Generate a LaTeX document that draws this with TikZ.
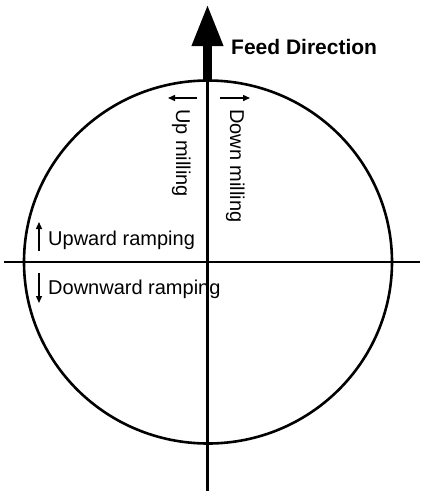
\documentclass[tikz,border=0pt]{standalone}
\usepackage{fontspec}
\setmainfont{Liberation Sans}
\usetikzlibrary{arrows.meta}
\begin{document}
\begin{tikzpicture}[x=1pt,y=-1pt,
  axis/.style={line width=2.1pt},
  rim/.style={line width=2.6pt},
  lbl/.style={inner sep=0pt,font=\fontsize{20}{22}\selectfont},
  small/.style={line width=1.4pt,-{Triangle[length=7pt,width=6pt]}},
  feed/.style={line width=9.5pt,-{Triangle[length=42pt,width=29pt]},shorten >=-1pt}]
\useasboundingbox (0,0) rectangle (422,493);
% circle
\coordinate (O) at (208,262);
\draw[rim] (O) ellipse [x radius=184, y radius=181.5];
% axes
\coordinate (vtop) at (207.5,48);
\coordinate (vbot) at (207.5,491);
\coordinate (hl) at (4,262);
\coordinate (hr) at (420,262);
\draw[axis] (vtop) -- (vbot);
\draw[axis] (hl) -- (hr);
% feed arrow
\coordinate (fs) at (207.5,82);
\coordinate (ft) at (207.5,5);
\draw[feed] (fs) -- (ft);
\node[lbl,anchor=base west,font=\bfseries\fontsize{21}{23}\selectfont] (feedlbl) at (231,54) {Feed Direction};
% milling arrows
\coordinate (um1) at (197,98);
\coordinate (um2) at (168,98);
\coordinate (dm1) at (220,98);
\coordinate (dm2) at (250,98);
\draw[small] (um1) -- (um2);
\draw[small] (dm1) -- (dm2);
\node[lbl,rotate=-90,anchor=base west] (up) at (176,109) {Up milling};
\node[lbl,rotate=-90,anchor=base west] (down) at (230,109) {Down milling};
% ramping arrows
\coordinate (ur1) at (39,251);
\coordinate (ur2) at (39,222);
\coordinate (dr1) at (39,273);
\coordinate (dr2) at (39,303);
\draw[small] (ur1) -- (ur2);
\draw[small] (dr1) -- (dr2);
\node[lbl,anchor=base west] (upr) at (48,245) {Upward ramping};
\node[lbl,anchor=base west] (dnr) at (48,294) {Downward ramping};
\end{tikzpicture}
\end{document}
